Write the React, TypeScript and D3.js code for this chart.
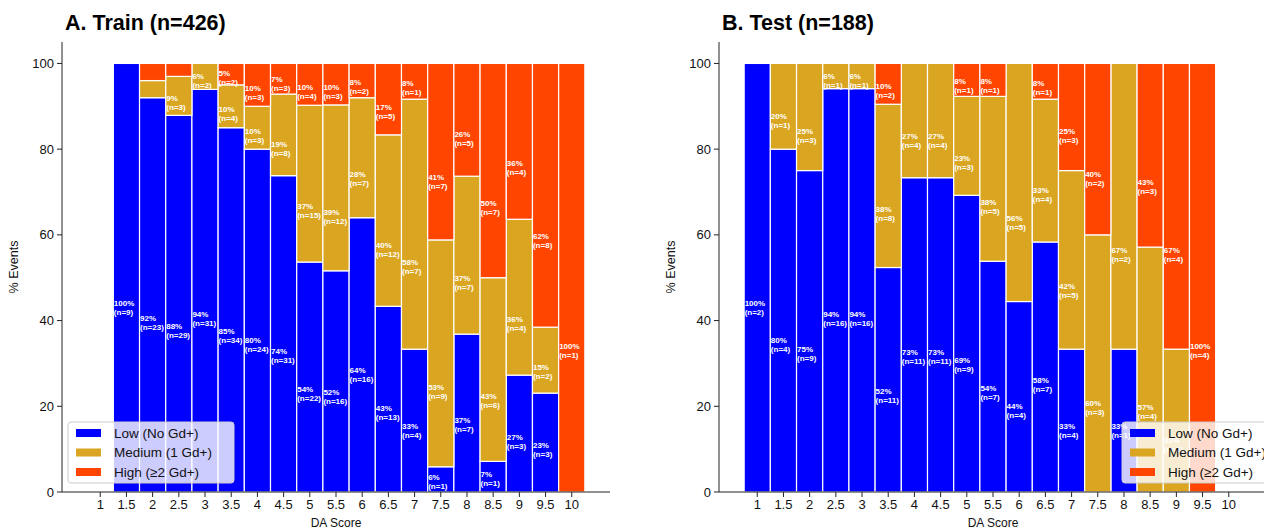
import React from "react";
import * as d3 from "d3";

// DA score bins and event counts per Gd+ category
const scores = [1, 1.5, 2, 2.5, 3, 3.5, 4, 4.5, 5, 5.5, 6, 6.5, 7, 7.5, 8, 8.5, 9, 9.5, 10];

const trainLow = [0, 9, 23, 29, 31, 34, 24, 31, 22, 16, 16, 13, 4, 1, 7, 1, 3, 3, 0];
const trainMed = [0, 0, 1, 3, 2, 4, 3, 8, 15, 12, 7, 12, 7, 9, 7, 6, 4, 2, 0];
const trainHigh = [0, 0, 1, 1, 0, 2, 3, 3, 4, 3, 2, 5, 1, 7, 5, 7, 4, 8, 1];

const testLow = [2, 4, 9, 16, 16, 11, 11, 11, 9, 7, 4, 7, 4, 0, 1, 0, 0, 0, 0];
const testMed = [0, 1, 3, 1, 1, 8, 4, 4, 3, 5, 5, 4, 5, 3, 2, 4, 2, 0, 0];
const testHigh = [0, 0, 0, 0, 0, 2, 0, 0, 1, 1, 0, 1, 3, 2, 0, 3, 4, 4, 0];

const categories = ["Low (No Gd+)", "Medium (1 Gd+)", "High (\u22652 Gd+)"];
const keys = ["low", "med", "high"];
const colors = ["#0000FF", "#DAA520", "#FF4500"];
const yTicks = [0, 20, 40, 60, 80, 100];

const W = 1264, H = 531;
const FONT = "'Liberation Sans', Arial, Helvetica, sans-serif";
// where the label sits inside a segment (fraction of its height)
const labelPos = { low: 0.43, med: 0.33, high: 0.33 };

function Panel({ left, title, low, med, high, legendX }) {
  const x = d3.scaleLinear().domain([0.27, 10.73]).range([left, left + 548]);
  const y = d3.scaleLinear().domain([0, 105]).range([492, 42]);
  const bw = x(1.5) - x(1);

  const rows = scores
    .map((s, i) => ({ score: s, low: low[i], med: med[i], high: high[i], total: low[i] + med[i] + high[i] }))
    .filter((d) => d.total > 0);

  const series = d3.stack()
    .keys(keys)
    .value((d, k) => (d[k] / d.total) * 100)(rows);

  return (
    <g>
      <text x={left + 3} y={30} fontFamily={FONT} fontSize={21.5} fontWeight="bold" fill="#000">{title}</text>

      {series.map((s, si) =>
        s.map((seg, j) => {
          const [y0, y1] = seg;
          if (y1 - y0 <= 0) return null;
          return (
            <rect key={`${si}-${j}`} x={x(seg.data.score) - bw / 2} y={y(y1)} width={bw}
              height={y(y0) - y(y1)} fill={colors[si]} stroke="#fff" strokeWidth={1.2} />
          );
        })
      )}

      {series.map((s, si) =>
        s.map((seg, j) => {
          const [y0, y1] = seg;
          const pct = y1 - y0;
          if (pct < 4.95) return null;
          const n = seg.data[keys[si]];
          const yc = y(y0 + pct * labelPos[keys[si]]);
          const lx = x(seg.data.score) - bw / 2 + 0.5;
          return (
            <text key={`l${si}-${j}`} fontFamily={FONT} fontSize={8} fontWeight="bold" fill="#fff">
              <tspan x={lx} y={yc - 1.5}>{`${Math.round(pct)}%`}</tspan>
              <tspan x={lx} y={yc + 7.5}>{`(n=${n})`}</tspan>
            </text>
          );
        })
      )}

      {/* axes */}
      <line x1={left} x2={left} y1={y(105)} y2={y(0)} stroke="#222" strokeWidth={1} />
      <line x1={left} x2={left + 548} y1={y(0)} y2={y(0)} stroke="#222" strokeWidth={1} />
      {yTicks.map((t) => (
        <g key={`y${t}`}>
          <line x1={left - 5} x2={left} y1={y(t)} y2={y(t)} stroke="#222" />
          <text x={left - 8} y={y(t)} dy="0.35em" textAnchor="end" fontFamily={FONT} fontSize={13} fill="#111">{t}</text>
        </g>
      ))}
      {scores.map((s) => (
        <g key={`x${s}`}>
          <line x1={x(s)} x2={x(s)} y1={y(0)} y2={y(0) + 5} stroke="#222" />
          <text x={x(s)} y={y(0) + 17} textAnchor="middle" fontFamily={FONT} fontSize={13} fill="#111">{s}</text>
        </g>
      ))}
      <text x={left + 274} y={527} textAnchor="middle" fontFamily={FONT} fontSize={12} fill="#111">DA Score</text>
      <text transform={`translate(${left - 44},267) rotate(-90)`} textAnchor="middle" fontFamily={FONT} fontSize={12.5} fill="#111">% Events</text>

      {/* legend */}
      <g transform={`translate(${legendX},422)`}>
        <rect x={0} y={0} width={166} height={61} rx={3} fill="#fff" fillOpacity={0.8} stroke="#ccc" />
        {categories.map((c, i) => (
          <g key={c} transform={`translate(0,${11 + i * 19.5})`}>
            <rect x={8} y={-4} width={25} height={8} fill={colors[i]} />
            <text x={46} y={0} dy="0.35em" fontFamily={FONT} fontSize={13.5} fill="#111">{c}</text>
          </g>
        ))}
      </g>
    </g>
  );
}

export default function App() {
  return (
    <svg width={W} height={H} style={{ position: "absolute", left: 0, top: 0, background: "#fff" }}>
      <Panel left={62} title="A. Train (n=426)" low={trainLow} med={trainMed} high={trainHigh} legendX={68} />
      <Panel left={719} title="B. Test (n=188)" low={testLow} med={testMed} high={testHigh} legendX={1122} />
    </svg>
  );
}
